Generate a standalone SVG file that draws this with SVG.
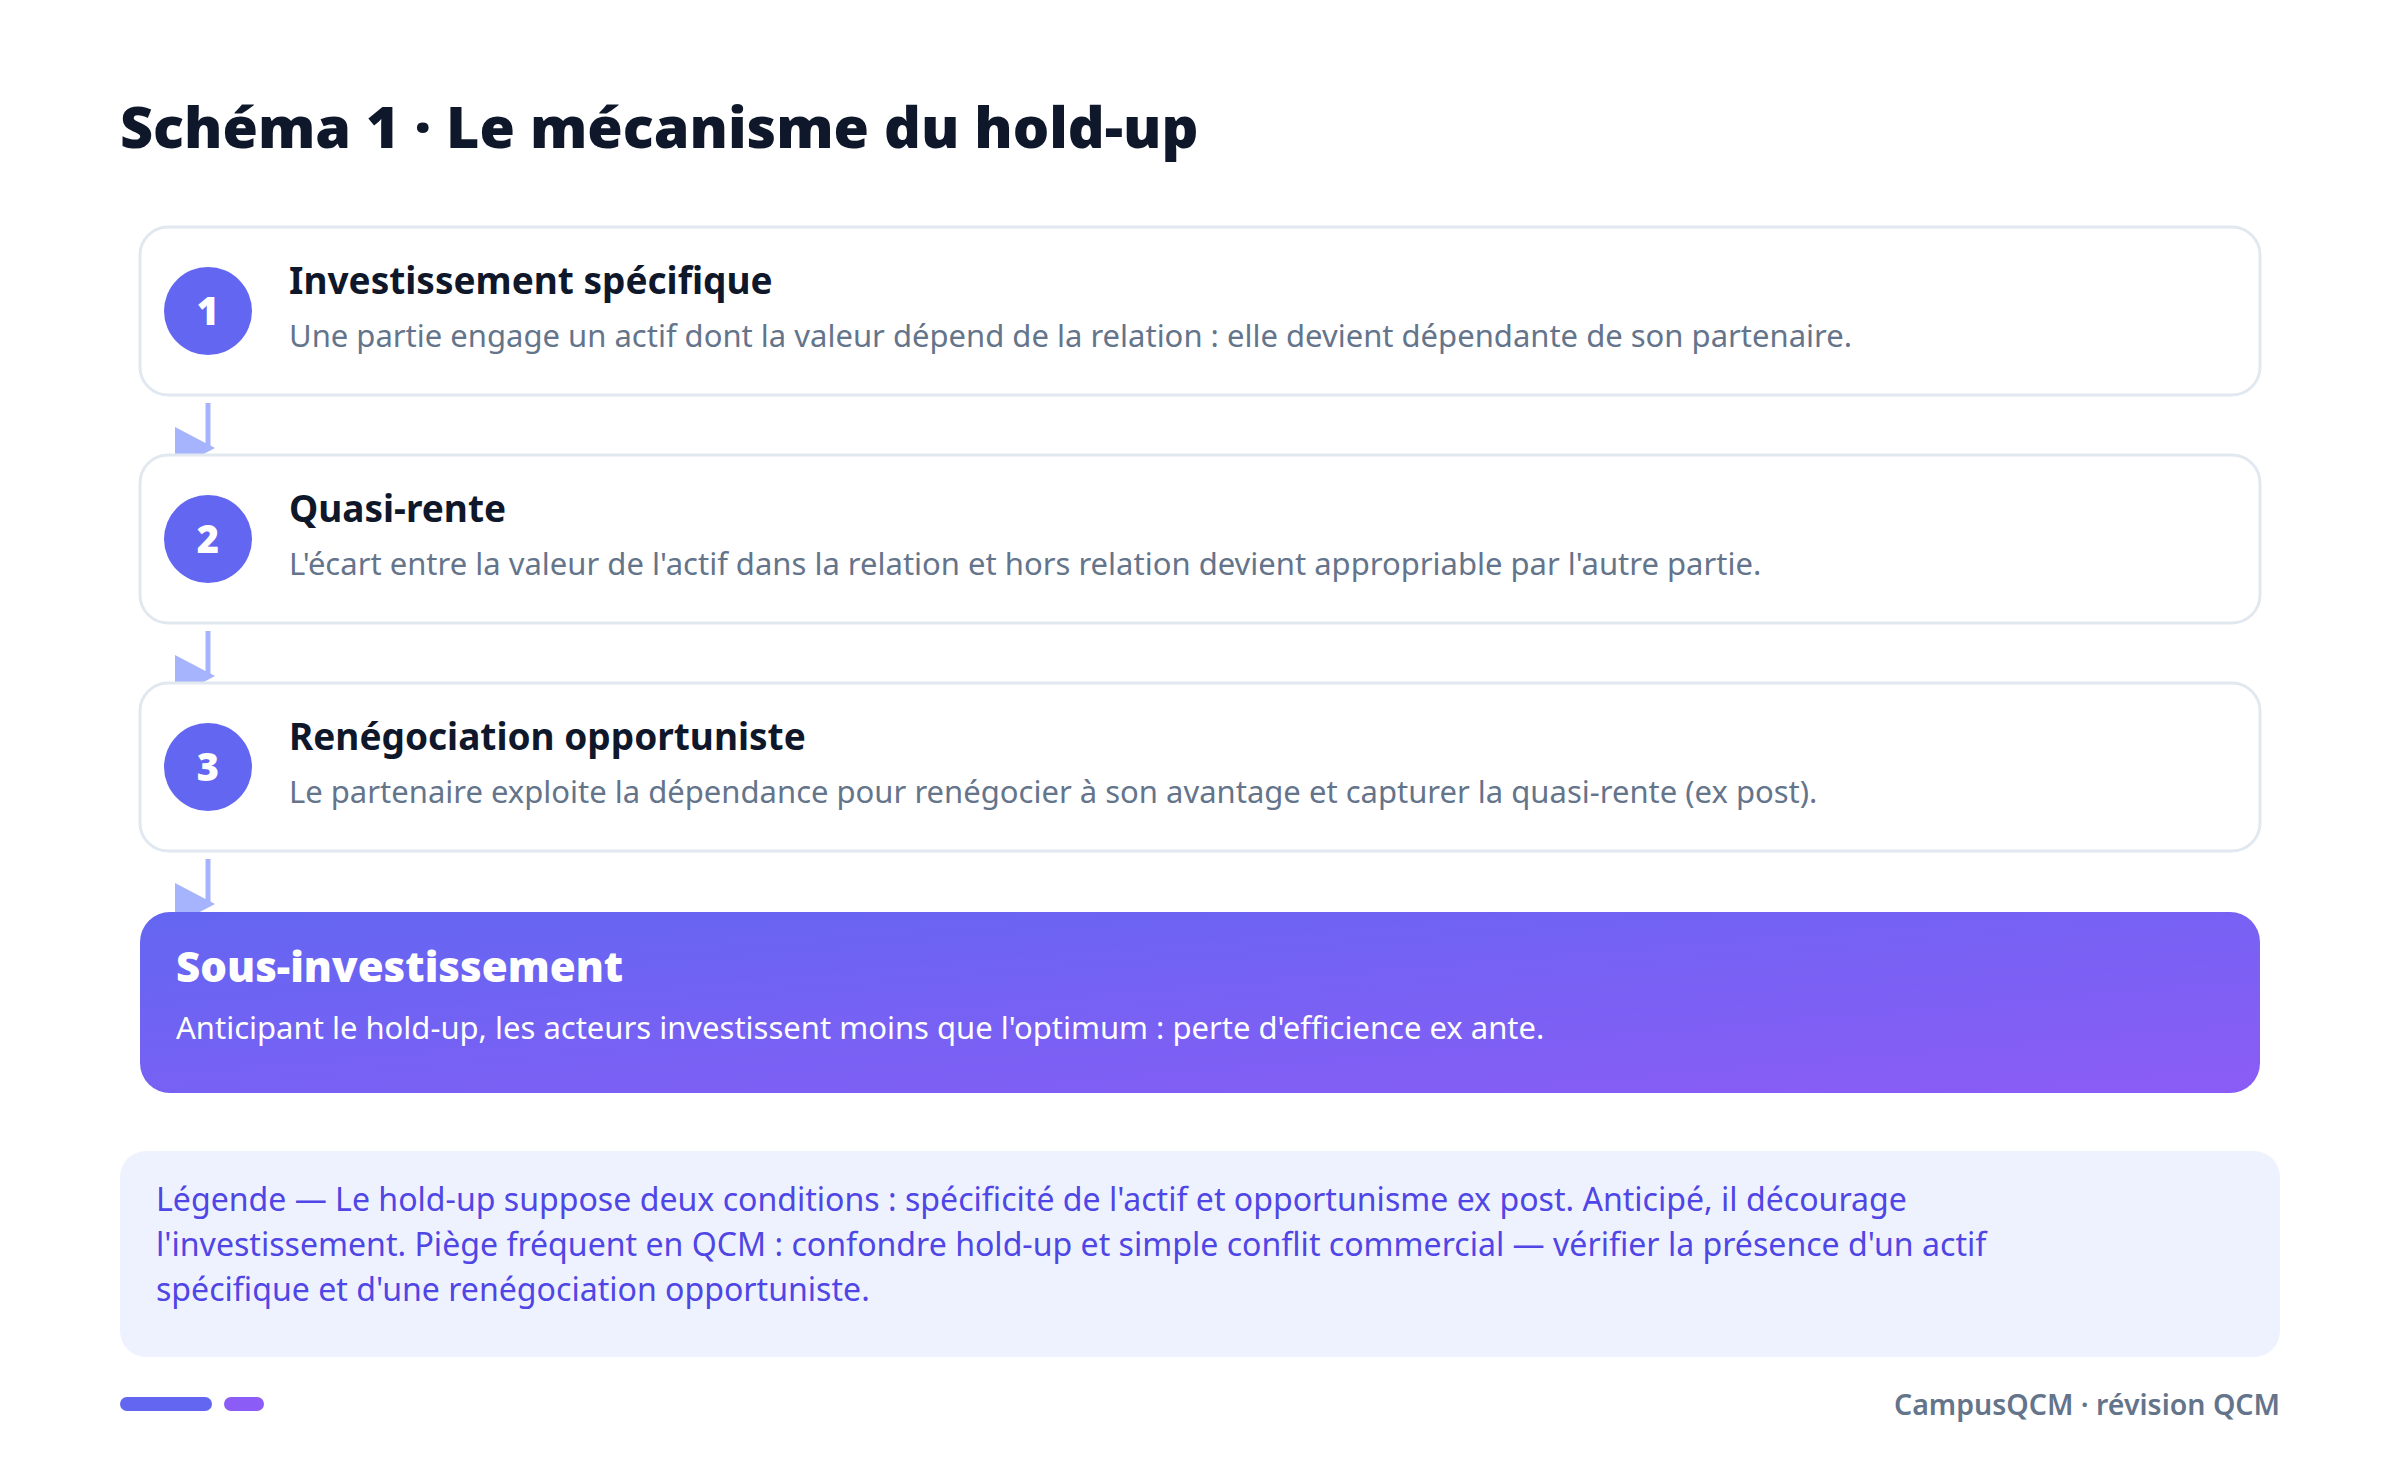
<svg xmlns="http://www.w3.org/2000/svg" width="2400" height="1465" viewBox="0 0 2400 1465">
  <defs>
    <linearGradient id="gFinal" x1="0" y1="0" x2="1" y2="1">
      <stop offset="0" stop-color="#6366F1"/>
      <stop offset="1" stop-color="#8B5CF6"/>
    </linearGradient>
    <style>
      .title{font-family:"Noto Sans","Liberation Sans",sans-serif;font-weight:900;font-size:57.4px;fill:#0F172A}
      .card{fill:#FFFFFF;stroke:#E2E8F0;stroke-width:3}
      .num{fill:#6366F1}
      .numt{font-family:"Noto Sans","Liberation Sans",sans-serif;font-weight:900;font-size:38px;fill:#FFFFFF;text-anchor:middle}
      .ct{font-family:"Noto Sans","Liberation Sans",sans-serif;font-weight:700;font-size:37px;fill:#0F172A}
      .cd{font-family:"Noto Sans","Liberation Sans",sans-serif;font-weight:400;font-size:31px;fill:#64748B}
      .ft{font-family:"Noto Sans","Liberation Sans",sans-serif;font-weight:900;font-size:42px;fill:#FFFFFF}
      .fd{font-family:"Noto Sans","Liberation Sans",sans-serif;font-weight:400;font-size:31px;fill:#FFFFFF}
      .lg{font-family:"Noto Sans","Liberation Sans",sans-serif;font-weight:400;font-size:32.1px;fill:#4F46E5}
      .foot{font-family:"Noto Sans","Liberation Sans",sans-serif;font-weight:600;font-size:28.5px;fill:#64748B;text-anchor:end}
      .conn line{stroke:#A5B4FC;stroke-width:5}
      .conn polygon{fill:#A5B4FC}
    </style>
  </defs>
  <rect x="0" y="0" width="2400" height="1465" fill="#FFFFFF"/>
  <text class="title" x="120" y="148">Schéma 1 · Le mécanisme du hold-up</text>

  <g id="connectors" class="conn">
    <line x1="208" y1="403" x2="208" y2="448"/>
    <polygon points="175,427 215,448 175,469"/>
    <line x1="208" y1="631" x2="208" y2="676"/>
    <polygon points="175,655 215,676 175,697"/>
    <line x1="208" y1="859" x2="208" y2="904"/>
    <polygon points="175,883 215,904 175,925"/>
  </g>

  <g id="node1">
    <rect class="card" x="140" y="227" width="2120" height="168" rx="28"/>
    <circle class="num" cx="208" cy="311" r="44"/>
    <text class="numt" x="208" y="325">1</text>
    <text class="ct" x="289" y="294">Investissement spécifique</text>
    <text class="cd" x="289" y="347">Une partie engage un actif dont la valeur dépend de la relation : elle devient dépendante de son partenaire.</text>
  </g>
  <g id="node2">
    <rect class="card" x="140" y="455" width="2120" height="168" rx="28"/>
    <circle class="num" cx="208" cy="539" r="44"/>
    <text class="numt" x="208" y="553">2</text>
    <text class="ct" x="289" y="522">Quasi-rente</text>
    <text class="cd" x="289" y="575">L'écart entre la valeur de l'actif dans la relation et hors relation devient appropriable par l'autre partie.</text>
  </g>
  <g id="node3">
    <rect class="card" x="140" y="683" width="2120" height="168" rx="28"/>
    <circle class="num" cx="208" cy="767" r="44"/>
    <text class="numt" x="208" y="781">3</text>
    <text class="ct" x="289" y="750">Renégociation opportuniste</text>
    <text class="cd" x="289" y="803">Le partenaire exploite la dépendance pour renégocier à son avantage et capturer la quasi-rente (ex post).</text>
  </g>
  <g id="node4">
    <rect x="140" y="912" width="2120" height="181" rx="30" fill="url(#gFinal)"/>
    <text class="ft" x="176" y="982">Sous-investissement</text>
    <text class="fd" x="176" y="1039">Anticipant le hold-up, les acteurs investissent moins que l'optimum : perte d'efficience ex ante.</text>
  </g>

  <g id="legend">
    <rect x="120" y="1151" width="2160" height="206" rx="26" fill="#EEF2FF"/>
    <text class="lg" x="156" y="1211">Légende — Le hold-up suppose deux conditions : spécificité de l'actif et opportunisme ex post. Anticipé, il décourage</text>
    <text class="lg" x="156" y="1256">l'investissement. Piège fréquent en QCM : confondre hold-up et simple conflit commercial — vérifier la présence d'un actif</text>
    <text class="lg" x="156" y="1301">spécifique et d'une renégociation opportuniste.</text>
  </g>

  <g id="footer">
    <rect x="120" y="1397" width="92" height="14" rx="7" fill="#6366F1"/>
    <rect x="224" y="1397" width="40" height="14" rx="7" fill="#8B5CF6"/>
    <text class="foot" x="2280" y="1415">CampusQCM · révision QCM</text>
  </g>
</svg>
